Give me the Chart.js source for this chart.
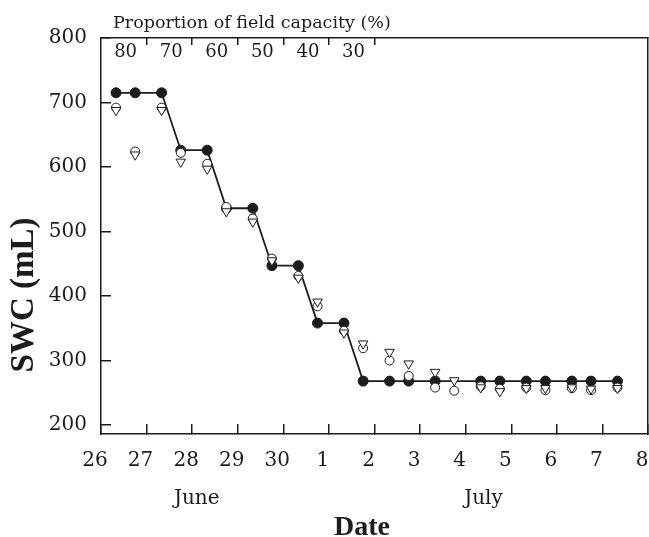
<!DOCTYPE html>
<html>
<head>
<meta charset="utf-8">
<title>SWC</title>
<script src="https://cdn.jsdelivr.net/npm/chart.js@4.4.1/dist/chart.umd.min.js"></script>
<style>
    html, body { margin: 0; padding: 0; background: #fff; overflow: hidden; }
    canvas { display: block; }
</style>
</head>
<body>
<canvas id="swcChart" width="649" height="537"></canvas>
<script>
// ── Data (x = days after 26 June 00:00) ──
const times       = [0.33, 0.75, 1.33, 1.75, 2.33, 2.75, 3.33, 3.75, 4.33, 4.75, 5.33, 5.75, 6.33, 6.75, 7.33, 7.75, 8.33, 8.75, 9.33, 9.75, 10.33, 10.75, 11.33];
const targetSwc   = [715, 715, 715, 626, 626, 536, 536, 447, 447, 358, 358, 268, 268, 268, 268, null, 268, 268, 268, 268, 268, 268, 268];
const circleSwc   = [692, 624, 692, 622, 605, 538, 520, 458, 431, 384, 346, 319, 300, 276, 258, 253, 260, 256, 258, 254, 257, 254, 258];
const triangleSwc = [688, 619, 688, 608, 597, 531, 515, 455, 428, 391, 343, 326, 313, 295, 282, 269, 258, 252, 257, 257, 258, 256, 257];

// ── Axis ticks / labels ──
const dayTicks    = [0, 1, 2, 3, 4, 5, 6, 7, 8, 9, 10, 11, 12];
const dayLabels   = ['26', '27', '28', '29', '30', '1', '2', '3', '4', '5', '6', '7', '8'];
const monthTicks  = [2.1, 8.39];
const monthLabels = ['June', 'July'];
const topTicks    = [1, 2, 3, 4, 5, 6];
const topLabels   = ['80', '70', '60', '50', '40', '30'];
const yTicks      = [200, 300, 400, 500, 600, 700, 800];

const topTitle = 'Proportion of field capacity (%)';
const xTitle   = 'Date';
const yTitle   = 'SWC (mL)';

const INK = '#1c1c1c';
Chart.defaults.font.family = '"DejaVu Serif", serif';
Chart.defaults.color = INK;

const toPoints = arr => times.map((t, i) => ({ x: t, y: arr[i] }));

// ── Titles placed like the original figure ──
const axisTitles = {
    id: 'axisTitles',
    afterDraw(chart) {
        const { ctx, chartArea: a } = chart;
        ctx.save();
        ctx.fillStyle = INK;

        ctx.font = '17.5px "DejaVu Serif"';
        ctx.textAlign = 'left';
        ctx.textBaseline = 'alphabetic';
        ctx.fillText(topTitle, a.left + 12, a.top - 10);

        ctx.font = 'bold 28px "Liberation Serif"';
        ctx.textAlign = 'center';
        ctx.fillText(xTitle, a.left + 261, a.bottom + 101);

        ctx.translate(a.left - 77, a.top + 257);
        ctx.rotate(-Math.PI / 2);
        ctx.font = 'bold 33px "Liberation Serif"';
        ctx.textBaseline = 'middle';
        ctx.fillText(yTitle, 0, 0);
        ctx.restore();
    }
};

const setTicks = list => scale => { scale.ticks = list.map(v => ({ value: v })); };

new Chart(document.getElementById('swcChart'), {
    type: 'line',
    data: {
        datasets: [
            {
                data: toPoints(triangleSwc),
                showLine: false,
                pointStyle: 'triangle',
                rotation: 180,
                pointRadius: 5.5,
                pointBackgroundColor: '#fff',
                pointBorderColor: INK,
                pointBorderWidth: 1,
                order: 0
            },
            {
                data: toPoints(circleSwc),
                showLine: false,
                pointStyle: 'circle',
                pointRadius: 4.5,
                pointBackgroundColor: '#fff',
                pointBorderColor: INK,
                pointBorderWidth: 1,
                order: 1
            },
            {
                data: toPoints(targetSwc),
                spanGaps: true,
                borderColor: INK,
                borderWidth: 1.8,
                pointStyle: 'circle',
                pointRadius: 5,
                pointBackgroundColor: INK,
                pointBorderColor: INK,
                pointBorderWidth: 1,
                order: 2
            }
        ]
    },
    options: {
        responsive: false,
        animation: false,
        layout: { padding: 0, autoPadding: false },
        plugins: { legend: { display: false }, tooltip: { enabled: false } },
        scales: {
            x: {
                type: 'linear', position: 'bottom', min: 0, max: 12,
                afterBuildTicks: setTicks(dayTicks),
                ticks: {
                    callback: (v, i) => dayLabels[i],
                    autoSkip: false, maxRotation: 0,
                    labelOffset: -6, padding: 25,
                    font: { size: 20 }
                },
                grid: { drawOnChartArea: false, tickLength: -10, color: INK, lineWidth: 1.5 },
                border: { color: INK, width: 1.5 },
                afterFit: s => { s.height = 39; s.paddingLeft = 0; s.paddingRight = 0; }
            },
            xMonth: {
                type: 'linear', position: 'bottom', min: 0, max: 12, weight: 1,
                afterBuildTicks: setTicks(monthTicks),
                ticks: {
                    callback: (v, i) => monthLabels[i],
                    autoSkip: false, maxRotation: 0, padding: 5.7,
                    font: { size: 20 }
                },
                grid: { display: false },
                border: { display: false },
                afterFit: s => { s.height = 64; s.paddingLeft = 0; s.paddingRight = 0; }
            },
            xTop: {
                type: 'linear', position: 'top', min: 0, max: 12,
                afterBuildTicks: setTicks(topTicks),
                ticks: {
                    callback: (v, i) => topLabels[i],
                    autoSkip: false, maxRotation: 0, mirror: true,
                    labelOffset: -21, padding: 3.2,
                    font: { size: 18 }
                },
                grid: { drawOnChartArea: false, tickLength: -7, color: INK, lineWidth: 1.5 },
                border: { color: INK, width: 1.5 },
                afterFit: s => { s.height = 38; s.paddingLeft = 0; s.paddingRight = 0; }
            },
            y: {
                type: 'linear', position: 'left', min: 186, max: 800,
                afterBuildTicks: setTicks(yTicks),
                ticks: { padding: 24, font: { size: 20 } },
                grid: { drawOnChartArea: false, tickLength: -10, color: INK, lineWidth: 1.5 },
                border: { color: INK, width: 1.5 },
                afterFit: s => { s.width = 101; }
            },
            y2: {
                type: 'linear', position: 'right', min: 186, max: 800,
                ticks: { display: false },
                grid: { display: false },
                border: { color: INK, width: 1.5 },
                afterFit: s => { s.width = 1; }
            }
        }
    },
    plugins: [axisTitles]
});
</script>
</body>
</html>
